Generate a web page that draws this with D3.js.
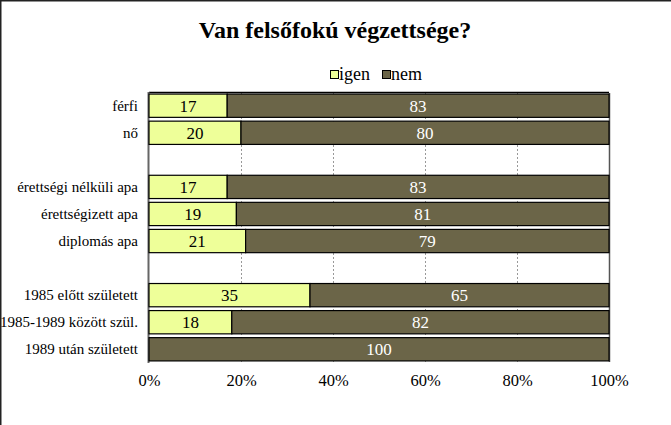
<!DOCTYPE html>
<html>
<head>
<meta charset="utf-8">
<script src="https://cdn.jsdelivr.net/npm/d3@7"></script>
<style>
  body { margin: 0; background: #fff; }
  svg text { font-family: "Liberation Serif", "Times New Roman", serif; }
</style>
</head>
<body>
<div id="chart"></div>
<script>
// Data (blank entries are spacer rows)
const categories = ['férfi', 'nő', '', 'érettségi nélküli apa', 'érettségizett apa', 'diplomás apa', ' ', '1985 előtt született', '1985-1989 között szül.', '1989 után született'];
const igenValues = [17, 20, null, 17, 19, 21, null, 35, 18, 0];
const nemValues = [83, 80, null, 83, 81, 79, null, 65, 82, 100];
const seriesNames = ['igen', 'nem'];
const seriesColors = ['#EEFF99', '#6B6548'];
const xTicks = [0, 0.2, 0.4, 0.6, 0.8, 1];

const svgWidth = 671;
const svgHeight = 425;
const margin = {top: 93, right: 62, bottom: 63, left: 149};
const width = svgWidth - margin.left - margin.right;
const height = svgHeight - margin.top - margin.bottom;

const svg = d3.select('#chart').append('svg')
    .attr('width', svgWidth)
    .attr('height', svgHeight);

// outer frame (only top and left edges show in the picture)
svg.append('path')
    .attr('d', 'M0.5,' + svgHeight + 'V0.5H' + svgWidth)
    .attr('fill', 'none')
    .attr('stroke', '#222')
    .attr('stroke-width', 2);

svg.append('text')
    .attr('x', 335)
    .attr('y', 38)
    .attr('text-anchor', 'middle')
    .style('font-size', '24px')
    .style('font-weight', 'bold')
    .text('Van felsőfokú végzettsége?');

// legend
const legend = svg.append('g').attr('transform', 'translate(330,70)');
const legendX = [0, 52];
seriesNames.forEach((name, i) => {
    legend.append('rect')
        .attr('x', legendX[i] + 0.5)
        .attr('y', 0.5)
        .attr('width', 8)
        .attr('height', 8)
        .attr('fill', seriesColors[i])
        .attr('stroke', '#000');
    legend.append('text')
        .attr('x', legendX[i] + 9)
        .attr('y', 10)
        .style('font-size', '18px')
        .text(name);
});

const g = svg.append('g')
    .attr('transform', 'translate(' + margin.left + ',' + margin.top + ')');

const x = d3.scaleLinear().domain([0, 1]).range([0, width]);
const y = d3.scaleBand().domain(categories).range([0, height]).paddingInner(0.14).paddingOuter(0.04);

// dashed grid
g.append('g')
    .selectAll('line')
    .data(xTicks.slice(1, -1))
    .enter().append('line')
        .attr('x1', d => Math.round(x(d)) + 0.5)
        .attr('x2', d => Math.round(x(d)) + 0.5)
        .attr('y1', 0)
        .attr('y2', height)
        .attr('stroke', '#999')
        .attr('stroke-dasharray', '2,2');

// plot frame
g.append('line').attr('x1', 0).attr('x2', width).attr('y1', -0.5).attr('y2', -0.5).attr('stroke', '#000').attr('stroke-width', 1.5);
g.append('line').attr('x1', width + 0.5).attr('x2', width + 0.5).attr('y1', 0).attr('y2', height).attr('stroke', '#555').attr('stroke-width', 1.5);
g.append('line').attr('x1', -0.5).attr('x2', -0.5).attr('y1', -1).attr('y2', height + 1).attr('stroke', '#666').attr('stroke-width', 2);

// stacked bars
const rows = categories.map((c, i) => ({cat: c, igen: igenValues[i], nem: nemValues[i]}))
    .filter(d => d.igen !== null);
const stacked = d3.stack().keys(seriesNames)(rows);

stacked.forEach((layer, li) => {
    const bars = g.append('g');
    layer.forEach(seg => {
        const v = seg[1] - seg[0];
        if (v <= 0) return;
        const x0 = x(seg[0] / 100);
        const x1 = x(seg[1] / 100);
        const y0 = y(seg.data.cat);
        bars.append('rect')
            .attr('x', x0)
            .attr('y', y0)
            .attr('width', x1 - x0)
            .attr('height', y.bandwidth())
            .attr('fill', seriesColors[li])
            .attr('stroke', '#000')
            .attr('stroke-width', 1.2);
        bars.append('text')
            .attr('x', (x0 + x1) / 2)
            .attr('y', y0 + y.bandwidth() / 2 + 6)
            .attr('text-anchor', 'middle')
            .attr('fill', li === 0 ? '#000' : '#fff')
            .style('font-size', '17px')
            .text(v);
    });
});

// category labels
g.append('g')
    .selectAll('text')
    .data(categories.filter(c => c.trim() !== ''))
    .enter().append('text')
        .attr('x', -11)
        .attr('y', d => y(d) + y.bandwidth() / 2 + 5)
        .attr('text-anchor', 'end')
        .style('font-size', '15px')
        .text(d => d);

// x axis labels
const xAxis = g.append('g')
    .attr('transform', 'translate(0,' + height + ')')
    .call(d3.axisBottom(x).tickValues(xTicks).tickFormat(d3.format('.0%')).tickSize(0).tickPadding(12));
xAxis.select('.domain').remove();
xAxis.selectAll('text')
    .attr('fill', '#000')
    .style('font-family', '"Liberation Serif", serif')
    .style('font-size', '16.5px');
</script>
</body>
</html>
